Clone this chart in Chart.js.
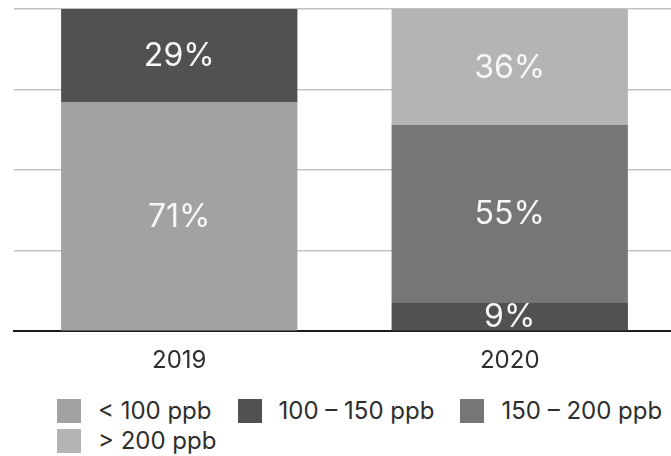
<!DOCTYPE html>
<html>
<head>
<meta charset="utf-8">
<script src="https://cdn.jsdelivr.net/npm/chart.js@4/dist/chart.umd.min.js"></script>
<style>
    html, body { margin: 0; padding: 0; background: #fff; }
    body { width: 671px; height: 456px; overflow: hidden; font-family: Inter, sans-serif; }
    #chart-box { position: relative; width: 675px; height: 382px; }
    #legend { margin: 17px 0 0 57px; width: 720px; }
    #legend ul { list-style: none; margin: 0; padding: 0; display: flex; flex-wrap: wrap; width: 680px; }
    #legend li { display: flex; align-items: center; margin: 0 26px 6px 0; white-space: nowrap;
                 font-size: 24px; line-height: 24px; color: #2e2e2e; }
    #legend li.row-break { flex-basis: 100%; height: 0; margin: 0; }
    #legend li span { display: inline-block; width: 24px; height: 24px; margin-right: 17px; }
</style>
</head>
<body>
<div id="chart-box"><canvas id="ozone-chart"></canvas></div>
<div id="legend"></div>
<script>
const YEARS = ['2019', '2020'];
const RANGES = ['< 100 ppb', '100 – 150 ppb', '150 – 200 ppb', '> 200 ppb'];
const COLORS = ['#a0a2a4', '#505153', '#757678', '#b3b4b6'];

// share of sites per concentration range, in percent
const SHARE_UNDER_100 = [71, 0];
const SHARE_100_150 = [29, 9];
const SHARE_150_200 = [0, 55];
const SHARE_OVER_200 = [0, 36];

const Y_MAX = 100;
const Y_STEP = 25;

// legend rows: how many entries go on the first line
const LEGEND_FIRST_ROW = 3;

Chart.defaults.font.family = 'Inter, sans-serif';

// writes "NN%" in the middle of every non-empty segment
const segmentLabels = {
    id: 'segmentLabels',
    afterDatasetsDraw(chart) {
        const ctx = chart.ctx;
        ctx.save();
        ctx.fillStyle = '#f7f7f7';
        ctx.font = '32px Inter, sans-serif';
        ctx.textAlign = 'center';
        ctx.textBaseline = 'middle';
        chart.data.datasets.forEach((ds, i) => {
            chart.getDatasetMeta(i).data.forEach((bar, j) => {
                const v = ds.data[j];
                if (!v) return;
                ctx.fillText(v + '%', bar.x, (bar.y + bar.base) / 2 + 1);
            });
        });
        ctx.restore();
    }
};

// legend as html so the spacing can be set freely
const htmlLegend = {
    id: 'htmlLegend',
    afterUpdate(chart) {
        const box = document.getElementById('legend');
        box.innerHTML = '';
        const ul = document.createElement('ul');
        const items = chart.options.plugins.legend.labels.generateLabels(chart);
        items.forEach((item, i) => {
            if (i === LEGEND_FIRST_ROW) {
                const brk = document.createElement('li');
                brk.className = 'row-break';
                ul.appendChild(brk);
            }
            const li = document.createElement('li');
            const swatch = document.createElement('span');
            swatch.style.background = item.fillStyle;
            li.appendChild(swatch);
            li.appendChild(document.createTextNode(item.text));
            ul.appendChild(li);
        });
        box.appendChild(ul);
    }
};

function initDatasets() {
    const values = [SHARE_UNDER_100, SHARE_100_150, SHARE_150_200, SHARE_OVER_200];
    return RANGES.map((label, i) => ({
        label: label,
        data: values[i],
        backgroundColor: COLORS[i],
        borderWidth: 0,
        barPercentage: 0.715,
        categoryPercentage: 1
    }));
}

function createOzoneChart() {
    new Chart(document.getElementById('ozone-chart'), {
        type: 'bar',
        data: {
            labels: YEARS,
            datasets: initDatasets()
        },
        options: {
            responsive: true,
            maintainAspectRatio: false,
            animation: false,
            layout: {
                padding: {top: 9, left: 14, right: 0, bottom: 0}
            },
            plugins: {
                legend: {display: false},
                tooltip: {enabled: false}
            },
            scales: {
                x: {
                    stacked: true,
                    grid: {display: false},
                    border: {display: true, color: '#1c1c1c', width: 2},
                    ticks: {
                        color: '#2e2e2e',
                        padding: 7,
                        font: {size: 24}
                    }
                },
                y: {
                    stacked: true,
                    min: 0,
                    max: Y_MAX,
                    border: {display: false},
                    grid: {color: '#c3c3c3', lineWidth: 1.5, drawTicks: false},
                    ticks: {display: false, stepSize: Y_STEP}
                }
            }
        },
        plugins: [segmentLabels, htmlLegend]
    });
}

createOzoneChart();
</script>
</body>
</html>
